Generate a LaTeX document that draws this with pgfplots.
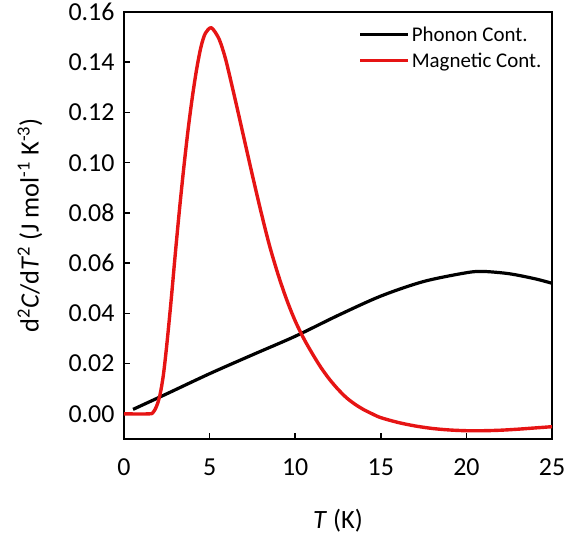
\documentclass[border=0pt]{standalone}
\usepackage{fontspec}
\setmainfont{Carlito}
\usepackage{pgfplots}
\pgfplotsset{compat=1.18}
\definecolor{myred}{RGB}{230,20,20}
\begin{document}
\begin{tikzpicture}
\begin{axis}[
  scale only axis,
  width=428bp, height=427bp,
  xmin=0, xmax=25, ymin=-0.01, ymax=0.16,
  xtick={0,5,10,15,20,25},
  ytick={0,0.02,0.04,0.06,0.08,0.10,0.12,0.14,0.16},
  yticklabel style={/pgf/number format/fixed, /pgf/number format/fixed zerofill, /pgf/number format/precision=2},
  /pgf/number format/assume math mode=true,
  tick label style={font=\fontsize{26}{30}\selectfont},
  xticklabel style={yshift=-16bp},
  yticklabel style={xshift=-6bp},
  tick align=inside,
  xtick pos=bottom, ytick pos=left,
  major tick length=6bp,
  axis line style={line width=1.8bp},
  every tick/.style={line width=1.5bp, black},
  xlabel={\textit{T} (K)},
  ylabel={d\textsuperscript{2}\textit{C}/d\textit{T}\textsuperscript{2} (J mol\textsuperscript{-1} K\textsuperscript{-3})},
  label style={font=\fontsize{26.5}{30}\selectfont},
  xlabel style={at={(axis description cs:0.5,0)}, anchor=center, yshift=-82bp},
  ylabel style={at={(axis description cs:-0.2196,0.5)}, anchor=center},
  legend style={draw=none, fill=none, at={(0.985,0.975)}, anchor=north east,
    font=\fontsize{21}{24}\selectfont, row sep=6bp, inner sep=2bp},
  legend cell align=left,
  legend image code/.code={\draw[#1, line width=3.2bp] (0bp,0bp) -- (48bp,0bp);},
]
\addplot[black, line width=3.2bp, smooth] coordinates {
(0.53,0.0018) (2.5,0.0080) (5,0.0160) (7.5,0.0235) (10,0.0309) (12.5,0.0392)
(15,0.0469) (17.5,0.0527) (20,0.0562) (21,0.0567) (22.5,0.0558) (24,0.0538) (25,0.0520)
};
\addlegendentry{Phonon Cont.}
\addplot[myred, line width=3.4bp, smooth] coordinates {
(0,0) (1.45,0) (1.7,0.0006) (1.9,0.003) (2.1,0.0075) (2.3,0.0155) (2.5,0.0275) (2.75,0.045)
(3.0,0.064) (3.25,0.082) (3.5,0.0985) (3.75,0.1135) (4.0,0.1265) (4.25,0.1375) (4.5,0.1462)
(4.75,0.1515) (5.1,0.1537) (5.5,0.1500) (5.75,0.1455) (6.0,0.1395) (6.5,0.1250) (7.0,0.1100)
(7.5,0.0950) (8.0,0.0805) (8.5,0.0670) (9.0,0.0555) (9.5,0.0455) (10.0,0.0370) (10.5,0.0300)
(11.0,0.0240) (11.5,0.0185) (12,0.0138) (12.5,0.0098) (13,0.0064) (13.5,0.0038) (14,0.0017)
(14.5,0.0000) (15,-0.0015) (16,-0.0034) (17,-0.0048) (18,-0.0058) (19,-0.0064) (20,-0.0067)
(21,-0.0067) (22,-0.0065) (23,-0.0061) (24,-0.0056) (25,-0.0051)
};
\addlegendentry{Magnetic Cont.}
\end{axis}
\pgfresetboundingbox
\path (current axis.south west) ++(-124bp,-102bp) rectangle ++(566bp,541bp);
\end{tikzpicture}
\end{document}
